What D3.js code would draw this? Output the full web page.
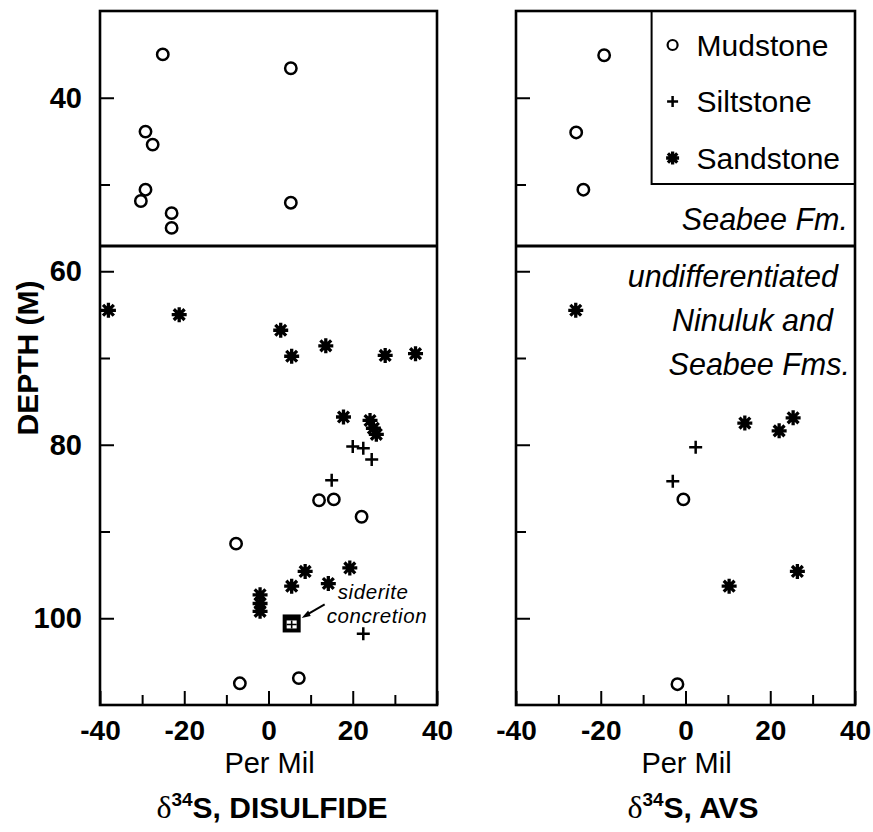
<!DOCTYPE html>
<html><head><meta charset="utf-8">
<script src="https://cdn.jsdelivr.net/npm/d3@7"></script>
<style>body{margin:0;background:#fff}svg{display:block}</style>
</head><body>
<svg id="chart" width="873" height="832"></svg>
<script>
// ---------- data ----------
const depthTicks = [40, 60, 80, 100];
const minorDepthTicks = [50, 70, 90];
const perMilTicks = [-40, -20, 0, 20, 40];
const minorPerMilTicks = [-30, -10, 10, 30];
const formationBoundary = 57.1;
const lithologies = ["Mudstone", "Siltstone", "Sandstone"];
const formationLabelsUpper = ["Seabee Fm."];
const formationLabelsLower = ["undifferentiated", "Ninuluk and", "Seabee Fms."];

// [per mil, depth m]
const disulfideMudstone = [[-25.1,35.0],[5.3,36.6],[-29.2,43.9],[-27.5,45.4],[-29.2,50.6],[-30.3,51.9],[5.3,52.1],[-23.0,53.3],[-23.0,55.0],[12.0,86.4],[15.5,86.3],[22.1,88.3],[-7.7,91.4],[-6.8,107.5],[7.2,106.9]];
const disulfideSiltstone = [[20.0,80.2],[22.5,80.4],[24.5,81.7],[15.0,84.1],[22.5,101.8]];
const disulfideSandstone = [[-38.0,64.5],[-21.2,65.0],[2.9,66.8],[5.5,69.8],[13.6,68.6],[27.7,69.7],[34.9,69.5],[17.8,76.8],[24.1,77.2],[24.9,78.1],[25.6,78.8],[8.7,94.6],[5.5,96.3],[14.2,96.0],[19.3,94.2],[-2.0,97.3],[-2.0,98.3],[-2.0,99.2]];
const disulfideSiderite = [[5.5,100.6]];
const avsMudstone = [[-19.2,35.1],[-25.8,44.0],[-24.1,50.6],[-0.5,86.3],[-1.9,107.6]];
const avsSiltstone = [[2.4,80.3],[-3.0,84.2]];
const avsSandstone = [[-25.9,64.5],[14.0,77.5],[22.1,78.4],[25.4,76.9],[10.3,96.3],[26.4,94.6]];

// ---------- layout ----------
const FONT = "'Liberation Sans', Arial, Helvetica, sans-serif";
const svg = d3.select("#chart");
svg.append("rect").attr("width", 873).attr("height", 832).attr("fill", "#fff");

const y = d3.scaleLinear().domain([30, 110]).range([11, 705]);
const panels = [
  {x: d3.scaleLinear().domain([-40, 40]).range([100, 437]), title: "S, DISULFIDE", tx: 272, mud: disulfideMudstone, silt: disulfideSiltstone, sand: disulfideSandstone, sid: disulfideSiderite, yLabels: true},
  {x: d3.scaleLinear().domain([-40, 40]).range([516, 855]), title: "S, AVS", tx: 693, mud: avsMudstone, silt: avsSiltstone, sand: avsSandstone, sid: [], yLabels: false}
];
const fmt = d => String(d); // plain hyphen minus like the reference

function plusPath(cx, cy, s) {
  return `M${cx - s},${cy}H${cx + s}M${cx},${cy - s}V${cy + s}`;
}
function starPath(cx, cy, s) {
  const d = s * 0.72;
  return `M${cx - s},${cy}H${cx + s}M${cx},${cy - s}V${cy + s}M${cx - d},${cy - d}L${cx + d},${cy + d}M${cx - d},${cy + d}L${cx + d},${cy - d}`;
}
function drawCircle(g, cx, cy, r, w) {
  g.append("circle").attr("cx", cx).attr("cy", cy).attr("r", r)
    .attr("fill", "#fff").attr("stroke", "#000").attr("stroke-width", w || 2.5);
}
function drawPlus(g, cx, cy, s) {
  g.append("path").attr("d", plusPath(cx, cy, s)).attr("stroke", "#000").attr("stroke-width", 2.5).attr("fill", "none");
}
function drawStar(g, cx, cy, s) {
  g.append("path").attr("d", starPath(cx, cy, s)).attr("stroke", "#000").attr("stroke-width", 3.3).attr("fill", "none");
  g.append("circle").attr("cx", cx).attr("cy", cy).attr("r", s * 0.55).attr("fill", "#000");
}

panels.forEach((p, i) => {
  const g = svg.append("g");
  const [x0, x1] = p.x.range();
  const [y0, y1] = y.range();

  // ticks (inward)
  const xMajor = d3.axisBottom(p.x).tickValues(perMilTicks).tickSizeInner(-14).tickSizeOuter(0).tickPadding(15).tickFormat(fmt);
  const xMinor = d3.axisBottom(p.x).tickValues(minorPerMilTicks).tickSizeInner(-10).tickSizeOuter(0).tickFormat("");
  const yMajor = d3.axisLeft(y).tickValues(depthTicks).tickSizeInner(-14).tickSizeOuter(0).tickPadding(18)
    .tickFormat(p.yLabels ? fmt : "");
  const yMinor = d3.axisLeft(y).tickValues(minorDepthTicks).tickSizeInner(-10).tickSizeOuter(0).tickFormat("");

  [[xMajor, `translate(0,${y1})`, 28], [xMinor, `translate(0,${y1})`, 28], [yMajor, `translate(${x0},0)`, 29], [yMinor, `translate(${x0},0)`, 29]].forEach(([ax, tr, fs]) => {
    const a = g.append("g").attr("transform", tr).call(ax);
    a.select(".domain").remove();
    a.selectAll("line").attr("stroke", "#000").attr("stroke-width", 2);
    a.selectAll("text").attr("font-family", FONT).attr("font-weight", "bold").attr("font-size", fs).attr("fill", "#000");
  });

  // frame
  g.append("rect").attr("x", x0).attr("y", y0).attr("width", x1 - x0).attr("height", y1 - y0)
    .attr("fill", "none").attr("stroke", "#000").attr("stroke-width", 2.6);
  // formation boundary
  g.append("line").attr("x1", x0).attr("x2", x1).attr("y1", y(formationBoundary)).attr("y2", y(formationBoundary))
    .attr("stroke", "#000").attr("stroke-width", 3);

  // points
  p.mud.forEach(d => drawCircle(g, p.x(d[0]), y(d[1]), 5.7));
  p.silt.forEach(d => drawPlus(g, p.x(d[0]), y(d[1]), 6.5));
  p.sand.forEach(d => drawStar(g, p.x(d[0]), y(d[1]), 7.5));

  p.sid.forEach(d => {
    const cx = p.x(d[0]), cy = y(d[1]);
    g.append("rect").attr("x", cx - 9).attr("y", cy - 9).attr("width", 18).attr("height", 18).attr("fill", "#000");
    g.append("rect").attr("x", cx - 5).attr("y", cy - 3).attr("width", 10).attr("height", 8).attr("fill", "#fff");
    g.append("path").attr("d", `M${cx},${cy - 3}V${cy + 5}M${cx - 5},${cy + 1}H${cx + 5}`).attr("stroke", "#000").attr("stroke-width", 1.6);
    // annotation
    g.append("line").attr("x1", cx + 33).attr("y1", cy - 19).attr("x2", cx + 14).attr("y2", cy - 8)
      .attr("stroke", "#000").attr("stroke-width", 2);
    g.append("path").attr("d", `M${cx + 10},${cy - 5.5}L${cx + 16.5},${cy - 13}L${cx + 19},${cy - 7.5}Z`).attr("fill", "#000");
    g.append("text").attr("x", cx + 46).attr("y", cy - 24).text("siderite")
      .attr("font-family", FONT).attr("font-style", "italic").attr("font-size", 20.5).attr("letter-spacing", 0.6);
    g.append("text").attr("x", cx + 35).attr("y", cy - 0.5).text("concretion")
      .attr("font-family", FONT).attr("font-style", "italic").attr("font-size", 20.5).attr("letter-spacing", 0.6);
  });

  // axis titles
  g.append("text").attr("x", (x0 + x1) / 2 + 1).attr("y", 773).attr("text-anchor", "middle")
    .attr("font-family", FONT).attr("font-size", 29).text("Per Mil");
  const t = g.append("text").attr("x", p.tx).attr("y", 818).attr("text-anchor", "middle")
    .attr("font-family", FONT).attr("font-weight", "bold").attr("font-size", 30);
  t.append("tspan").attr("font-family", "'Liberation Serif', 'DejaVu Serif', serif").attr("font-weight", "normal").attr("font-size", 32).text("δ");
  t.append("tspan").attr("dy", -12).attr("font-size", 19).text("34");
  t.append("tspan").attr("dy", 12).text(p.title);
});

// y axis title
svg.append("text").attr("transform", `translate(38,${(y.range()[0] + y.range()[1]) / 2}) rotate(-90)`)
  .attr("text-anchor", "middle").attr("font-family", FONT).attr("font-weight", "bold").attr("font-size", 30)
  .text("DEPTH (M)");

// legend + formation labels in right panel
const rx = panels[1].x;
const lg = svg.append("g");
const lx0 = rx(-8), ly1 = 184;
lg.append("rect").attr("x", lx0).attr("y", y.range()[0]).attr("width", rx.range()[1] - lx0).attr("height", ly1 - y.range()[0])
  .attr("fill", "none").attr("stroke", "#000").attr("stroke-width", 2);
const legendY = [45, 101.5, 158];
lithologies.forEach((name, i) => {
  const mx = lx0 + 21, my = legendY[i];
  if (i === 0) drawCircle(lg, mx, my, 5, 2.2);
  else if (i === 1) drawPlus(lg, mx, my, 5.5);
  else drawStar(lg, mx, my, 6.5);
  lg.append("text").attr("x", mx + 24).attr("y", my + 10.5).attr("font-family", FONT).attr("font-size", 30).text(name);
});
const labelOpts = {"font-family": FONT, "font-style": "italic", "font-size": 30.5};
const xr = rx.range()[1];
formationLabelsUpper.forEach(s => {
  const tt = svg.append("text").attr("x", xr - 7).attr("y", 230).attr("text-anchor", "end").text(s);
  Object.entries(labelOpts).forEach(([k, v]) => tt.attr(k, v));
});
const lowerX = [xr - 17, xr - 22, xr - 5];
const lowerY = [287, 331, 375];
formationLabelsLower.forEach((s, i) => {
  const tt = svg.append("text").attr("x", lowerX[i]).attr("y", lowerY[i]).attr("text-anchor", "end").text(s);
  Object.entries(labelOpts).forEach(([k, v]) => tt.attr(k, v));
});
</script>
</body></html>
